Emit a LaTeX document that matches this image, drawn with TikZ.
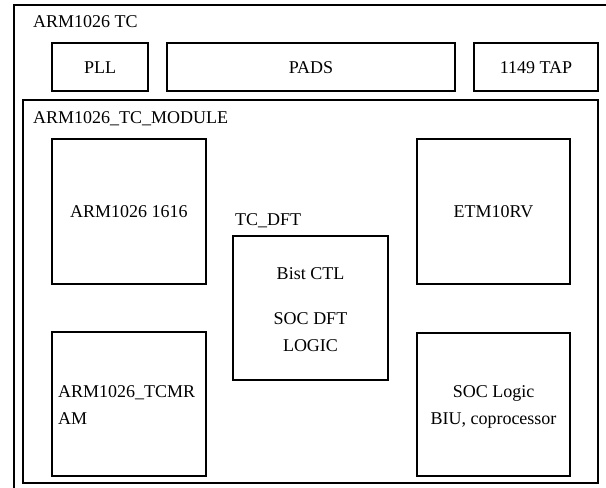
\documentclass[tikz,border=0pt]{standalone}
\usepackage{fontspec}
\setmainfont{Liberation Serif}
\begin{document}
\begin{tikzpicture}[x=1pt,y=-1pt,
  blk/.style={draw, line width=1.6pt, inner sep=0pt, anchor=center},
  txt/.style={inner sep=0pt, font=\fontsize{18}{27}\selectfont}]
\useasboundingbox (0,0) rectangle (606,488);
\clip (0,0) rectangle (606,488);
% outer box (extends beyond the picture on the right and bottom)
\coordinate (obl) at (14,520);
\coordinate (otl) at (14,5);
\coordinate (otr) at (640,5);
\draw[line width=1.6pt] (obl) -- (otl) -- (otr);
\node[txt, anchor=base west] (tclabel) at (33,27) {ARM1026 TC};
% top row
\node[blk, minimum width=96pt, minimum height=48pt] (pll) at (100,67) {};
\node[txt, anchor=base] (pllt) at (100,73) {PLL};
\node[blk, minimum width=288pt, minimum height=48pt] (pads) at (311,67) {};
\node[txt, anchor=base] (padst) at (311,73) {PADS};
\node[blk, minimum width=124pt, minimum height=48pt] (tap) at (536,67) {};
\node[txt, anchor=base] (tapt) at (536,73) {1149 TAP};
% module box
\node[blk, minimum width=575pt, minimum height=383pt] (module) at (310.5,291.5) {};
\node[txt, anchor=base west] (modlabel) at (33,123) {ARM1026\_TC\_MODULE};
% inner blocks
\node[blk, minimum width=154pt, minimum height=145pt] (arm) at (129,211.5) {};
\node[txt, anchor=base] (armt) at (129,217.5) {ARM1026 1616};
\node[blk, minimum width=153pt, minimum height=145pt] (etm) at (493.5,211.5) {};
\node[txt, anchor=base] (etmt) at (493.5,217.5) {ETM10RV};
\node[blk, minimum width=154pt, minimum height=144pt] (ram) at (129,404) {};
\node[txt, anchor=base west] (ramt1) at (58,397) {ARM1026\_TCMR};
\node[txt, anchor=base west] (ramt2) at (58,424) {AM};
\node[blk, minimum width=153pt, minimum height=143pt] (soc) at (493.5,404.5) {};
\node[txt, anchor=base] (soct1) at (493.5,397) {SOC Logic};
\node[txt, anchor=base] (soct2) at (493.5,424) {BIU, coprocessor};
% TC_DFT
\node[txt, anchor=base west] (dftlabel) at (235,225) {TC\_DFT};
\node[blk, minimum width=155pt, minimum height=144pt] (dft) at (310.5,308) {};
\node[txt, anchor=base] (dftt1) at (310.5,279) {Bist CTL};
\node[txt, anchor=base] (dftt2) at (310.5,324) {SOC DFT};
\node[txt, anchor=base] (dftt3) at (310.5,351) {LOGIC};
\end{tikzpicture}
\end{document}
